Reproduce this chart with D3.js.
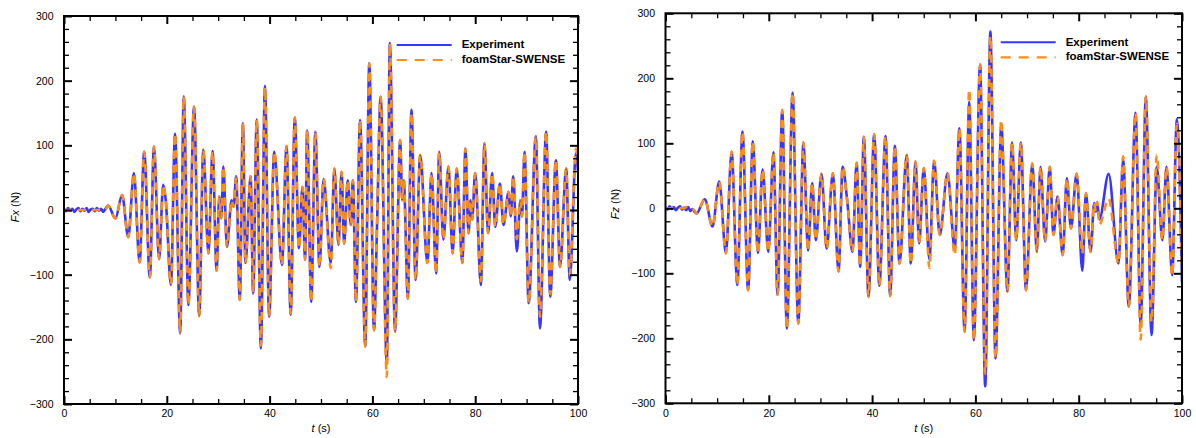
<!DOCTYPE html>
<html><head><meta charset="utf-8">
<script src="https://cdn.jsdelivr.net/npm/d3@7"></script>
<style>
body{margin:0;background:#fff}
svg{display:block}
text{font-family:"Liberation Sans",Arial,Helvetica,sans-serif;fill:#000}
</style>
</head><body>
<svg id="chart" width="1196" height="438"></svg>
<script>
// ---------- data ----------
const xTicks = [0, 20, 40, 60, 80, 100];
const yTicks = [-300, -200, -100, 0, 100, 200, 300];
const seriesNames = ["Experiment", "foamStar-SWENSE"];

// Left panel: Fx (N) vs t (s)
const fxTime = [0,0.4,0.8,1.2,1.6,2.0,2.4,2.8,3.2,3.6,4.0,4.4,4.8,5.2,5.6,6.0,6.4,6.8,7.2,7.6,8.0,
  8.6,10.0,11.3,12.5,13.6,14.7,15.6,16.7,17.5,18.5,19.3,19.8,20.8,21.6,22.6,23.3,24.2,25.3,26.3,27.1,
  28.1,28.9,29.7,30.2,30.6,31.0,31.7,32.6,33.0,33.5,34.2,34.8,35.3,36.3,36.8,37.5,38.3,39.1,39.9,40.9,
  42.4,43.3,44.1,44.9,45.7,46.4,46.9,47.3,48.1,48.9,49.7,50.5,51.9,52.6,53.4,54.0,54.5,55.2,55.8,56.2,
  56.8,57.6,58.6,59.4,60.3,60.9,61.6,62.8,63.4,64.4,65.4,65.8,66.1,66.9,67.6,68.4,69.3,70.7,71.5,72.4,
  73.0,73.8,74.8,75.6,76.4,77.5,78.1,78.7,79.1,79.4,80.0,81.1,81.8,82.5,83.3,83.9,84.8,85.5,86.5,86.9,
  87.4,88.1,88.8,89.1,89.6,90.4,91.8,92.6,93.8,94.6,95.7,96.5,97.7,98.4,99.6,100];
const fxExp = [2,-2,3,-1,2,-3,1,3,-2,2,-1,3,-3,1,2,-2,3,-1,2,-3,1,
  7,-13,23,-42,57,-81,90,-104,98,-76,39,15,-116,118,-191,176,-147,160,-164,93,
  -67,91,-94,21,-13,67,-57,15,5,52,-139,134,-82,52,-129,140,-214,192,-165,90,
  -85,99,-162,143,-59,36,-77,123,-142,121,-88,48,-82,64,-54,59,-52,46,-23,46,
  -142,139,-211,227,-186,-25,175,-237,258,-188,108,15,46,-137,155,-108,85,-82,57,-98,
  90,-46,67,-67,64,-82,95,-36,15,-15,57,-116,103,-36,57,-26,41,-23,28,-10,
  52,-64,15,-10,90,-144,114,-183,121,-134,77,-88,64,-108,88,60];
const fxSim = [0,0,0,0,0,0,0,0,0,0,0,0,0,0,0,0,0,0,0,0,0,
  7,-13,23,-42,57,-81,90,-104,98,-76,39,15,-116,118,-190,176,-147,160,-164,93,
  -67,91,-94,21,-13,67,-57,15,5,52,-139,134,-82,52,-129,140,-210,190,-165,90,
  -85,99,-160,143,-59,36,-77,123,-142,121,-88,48,-90,64,-54,59,-52,46,-23,46,
  -142,139,-211,227,-186,-25,175,-258,258,-188,108,15,46,-137,150,-108,85,-82,57,-98,
  90,-46,67,-67,64,-82,95,-36,15,-15,57,-110,103,-36,57,-26,41,-23,28,-10,
  52,-45,15,-10,90,-144,114,-165,121,-130,77,-88,64,-100,95,70];

// Right panel: Fz (N) vs t (s)
const fzTime = [0,0.4,0.8,1.2,1.6,2.0,2.4,2.8,3.2,3.6,4.0,4.4,4.8,5.2,5.6,
  6.0,7.6,9.1,10.4,11.7,12.8,13.9,14.9,16.0,16.9,17.9,18.8,19.9,20.9,21.7,22.6,23.5,24.6,25.7,26.7,
  27.6,28.4,29.1,30.2,31.2,32.4,33.5,34.3,35.2,36.2,37.0,37.7,38.4,39.3,40.4,41.4,42.6,43.5,44.4,45.3,
  46.7,47.5,48.4,49.1,50.0,51.1,52.0,53.1,54.6,56.0,56.9,57.9,58.8,59.7,60.9,61.9,62.9,63.9,65.0,66.2,
  67.1,67.9,68.8,69.8,71.0,71.9,72.6,73.5,74.4,75.1,75.9,76.9,77.7,78.5,79.6,80.7,81.4,82.3,83.0,83.3,
  83.6,84.0,85.8,87.7,88.6,89.7,91.0,92.0,93.0,94.1,95.1,96.2,97.0,98.1,99.0,100];
const fzExp = [2,-2,3,-1,2,-3,1,3,-2,1,-3,2,-4,-1,-5,
  -8,14,-28,41,-69,87,-118,118,-126,103,-69,60,-67,86,-133,151,-185,178,-177,101,
  -65,39,-49,53,-62,54,-97,64,10,-67,70,-90,110,-136,114,-119,111,-135,96,-85,
  82,-85,72,-54,62,-79,73,-41,54,-62,123,-190,164,-203,221,-274,272,-231,128,-128,
  101,-49,101,-126,69,-67,64,-51,64,-41,18,-72,46,-31,53,-96,23,-67,8,-5,
  6,-17,53,-85,75,-151,147,-179,172,-195,64,-49,64,-103,137,-115];
const fzSim = [0,0,0,0,0,0,0,0,0,0,2,3,1,-1,-3,
  -8,14,-28,41,-69,87,-118,118,-126,103,-69,60,-67,86,-133,151,-185,178,-177,101,
  -65,39,-49,53,-62,54,-97,64,10,-67,70,-90,110,-136,114,-119,111,-135,96,-85,
  82,-85,72,-54,62,-92,73,-41,54,-72,123,-190,183,-203,221,-255,265,-231,136,-128,
  101,-49,101,-126,69,-67,64,-51,64,-41,18,-72,46,-31,53,-70,23,-67,8,-5,
  10,-25,15,-85,80,-151,147,-202,172,-175,82,-49,64,-103,130,-100];

// ---------- drawing ----------
const svg = d3.select("#chart");
const BLUE = "#3636ff", ORANGE = "#ff8c14";

function panel(p) {
  const x = d3.scaleLinear().domain([0, 100]).range([p.x0, p.x1]);
  const y = d3.scaleLinear().domain([-300, 300]).range([p.y1, p.y0]);
  const g = svg.append("g");

  const clipId = "clip" + p.id;
  svg.append("clipPath").attr("id", clipId).append("rect")
    .attr("x", p.x0).attr("y", p.y0).attr("width", p.x1 - p.x0).attr("height", p.y1 - p.y0);

  const line = d3.line().x((d, i) => x(p.time[i])).y(d => y(d)).curve(d3.curveMonotoneX);

  const lg = g.append("g").attr("clip-path", `url(#${clipId})`);
  lg.append("path").datum(p.exp).attr("d", line)
    .attr("fill", "none").attr("stroke", BLUE).attr("stroke-width", 2.6).attr("stroke-linejoin", "round");
  lg.append("path").datum(p.sim).attr("d", line)
    .attr("fill", "none").attr("stroke", ORANGE).attr("stroke-width", 2.6)
    .attr("stroke-dasharray", "8,6");

  const xMinor = d3.range(0, 101, 5).filter(v => !xTicks.includes(v));
  const yMinor = d3.range(-300, 301, 20).filter(v => !yTicks.includes(v));

  function styleAxis(sel, w) {
    sel.select(".domain").remove();
    sel.selectAll(".tick line").attr("stroke", "#000").attr("stroke-width", w);
    sel.selectAll("text").style("font-size", "10.5px").attr("fill", "#000");
  }
  // bottom
  g.append("g").attr("transform", `translate(0,${p.y1})`)
    .call(d3.axisBottom(x).tickValues(xTicks).tickSize(-8).tickPadding(6).tickFormat(d3.format("d")))
    .call(s => styleAxis(s, 2));
  g.append("g").attr("transform", `translate(0,${p.y1})`)
    .call(d3.axisBottom(x).tickValues(xMinor).tickSize(-5).tickFormat(""))
    .call(s => styleAxis(s, 1.3));
  // top
  g.append("g").attr("transform", `translate(0,${p.y0})`)
    .call(d3.axisTop(x).tickValues(xTicks).tickSize(-8).tickFormat(""))
    .call(s => styleAxis(s, 2));
  g.append("g").attr("transform", `translate(0,${p.y0})`)
    .call(d3.axisTop(x).tickValues(xMinor).tickSize(-5).tickFormat(""))
    .call(s => styleAxis(s, 1.3));
  // left
  g.append("g").attr("transform", `translate(${p.x0},0)`)
    .call(d3.axisLeft(y).tickValues(yTicks).tickSize(-8).tickPadding(10.5).tickFormat(d3.format("d")))
    .call(s => styleAxis(s, 2));
  g.append("g").attr("transform", `translate(${p.x0},0)`)
    .call(d3.axisLeft(y).tickValues(yMinor).tickSize(-5).tickFormat(""))
    .call(s => styleAxis(s, 1.3));
  // right
  g.append("g").attr("transform", `translate(${p.x1},0)`)
    .call(d3.axisRight(y).tickValues(yTicks).tickSize(-8).tickFormat(""))
    .call(s => styleAxis(s, 2));
  g.append("g").attr("transform", `translate(${p.x1},0)`)
    .call(d3.axisRight(y).tickValues(yMinor).tickSize(-5).tickFormat(""))
    .call(s => styleAxis(s, 1.3));

  // frame
  g.append("rect").attr("x", p.x0).attr("y", p.y0).attr("width", p.x1 - p.x0).attr("height", p.y1 - p.y0)
    .attr("fill", "none").attr("stroke", "#000").attr("stroke-width", 2);

  // x title
  const xt = g.append("text").attr("x", (p.x0 + p.x1) / 2).attr("y", 432).attr("text-anchor", "middle")
    .style("font-size", "11px");
  xt.append("tspan").style("font-style", "italic").text("t");
  xt.append("tspan").text(" (s)");

  // y title
  const yt = g.append("text").attr("transform", `translate(${p.yTitleX},${p.yTitleY}) rotate(-90)`)
    .attr("text-anchor", "middle").style("font-size", "11px");
  yt.append("tspan").style("font-style", "italic").text(p.yLabel);
  yt.append("tspan").text(" (N)");

  // legend
  const lx0 = p.x1 - 181.3, lx1 = p.x1 - 126.3, tx = p.x1 - 116.3;
  const leg = g.append("g");
  leg.append("line").attr("x1", lx0).attr("x2", lx1).attr("y1", p.y0 + 29).attr("y2", p.y0 + 29)
    .attr("stroke", BLUE).attr("stroke-width", 2);
  leg.append("line").attr("x1", lx0).attr("x2", lx1).attr("y1", p.y0 + 44).attr("y2", p.y0 + 44)
    .attr("stroke", ORANGE).attr("stroke-width", 2.2).attr("stroke-dasharray", "10,8");
  leg.append("text").attr("x", tx).attr("y", p.y0 + 32.3).style("font-size", "11.5px")
    .style("font-weight", "bold").text(seriesNames[0]);
  leg.append("text").attr("x", tx).attr("y", p.y0 + 46.7).style("font-size", "11.5px")
    .style("font-weight", "bold").text(seriesNames[1]);
}

panel({id: "L", x0: 64, x1: 578, y0: 16, y1: 404, time: fxTime, exp: fxExp, sim: fxSim,
  yLabel: "Fx", yTitleX: 19, yTitleY: 207});
panel({id: "R", x0: 665.5, x1: 1182, y0: 13.3, y1: 403.3, time: fzTime, exp: fzExp, sim: fzSim,
  yLabel: "Fz", yTitleX: 619, yTitleY: 204});
</script>
</body></html>
